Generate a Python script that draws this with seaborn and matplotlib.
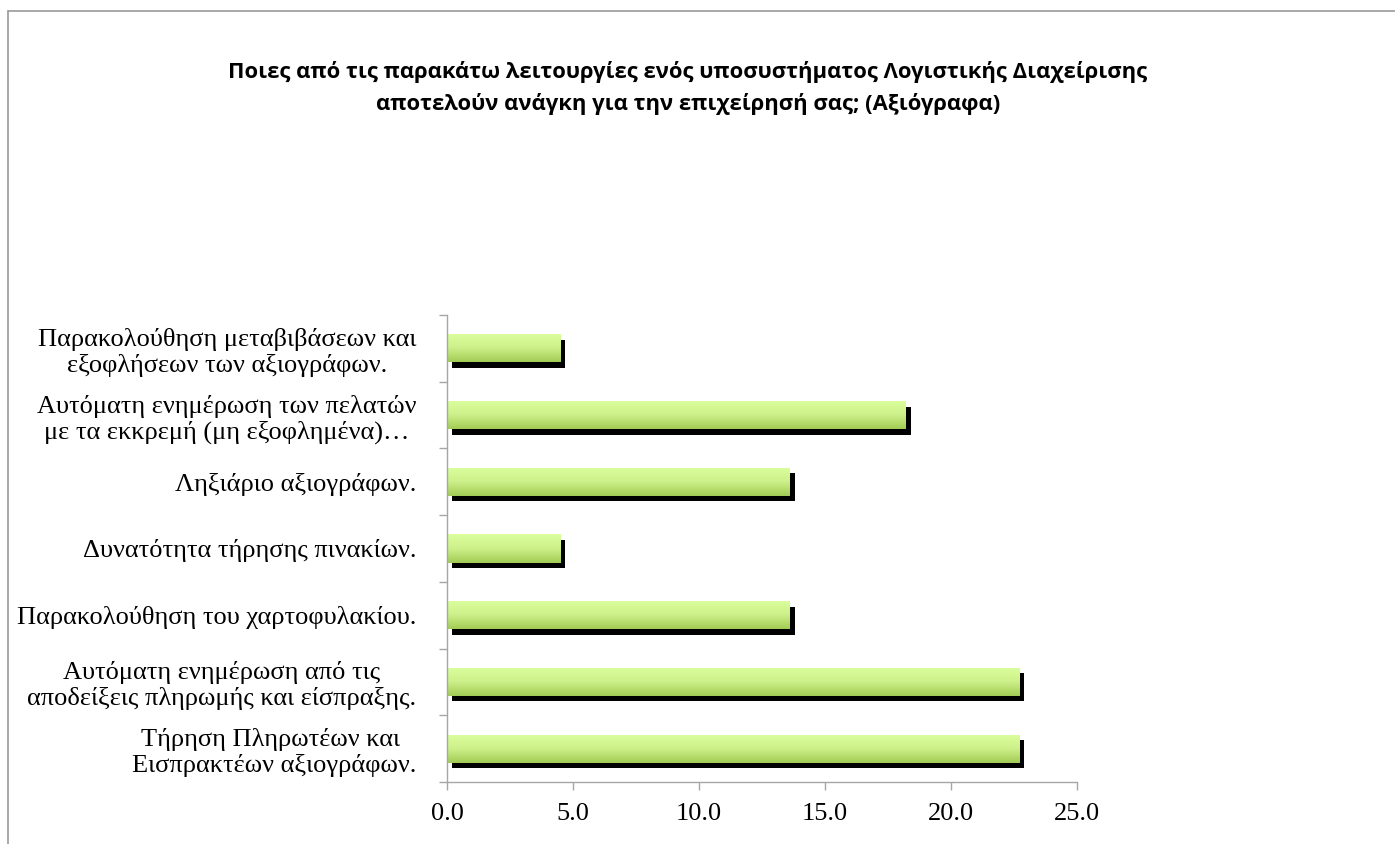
import numpy as np
import matplotlib
matplotlib.use("Agg")
import matplotlib.pyplot as plt
import matplotlib.patheffects as pe
from matplotlib.lines import Line2D
from matplotlib.colors import LinearSegmentedColormap
import seaborn as sns

# Survey answers (percent of respondents), listed top to bottom
categories = [
    "Παρακολούθηση μεταβιβάσεων και\nεξοφλήσεων των αξιογράφων.",
    "Αυτόματη ενημέρωση των πελατών\nμε τα εκκρεμή (μη εξοφλημένα)…",
    "Ληξιάριο αξιογράφων.",
    "Δυνατότητα τήρησης πινακίων.",
    "Παρακολούθηση του χαρτοφυλακίου.",
    "Αυτόματη ενημέρωση από τις\nαποδείξεις πληρωμής και είσπραξης.",
    "Τήρηση Πληρωτέων και \nΕισπρακτέων αξιογράφων.",
]
values = [4.5, 18.2, 13.6, 4.5, 13.6, 22.7, 22.7]
x_ticks = [0, 5, 10, 15, 20, 25]
title = ("Ποιες από τις παρακάτω λειτουργίες ενός υποσυστήματος Λογιστικής Διαχείρισης\n"
         "αποτελούν ανάγκη για την επιχείρησή σας; (Αξιόγραφα)")

sns.set_theme(style="white")
plt.rcParams["font.family"] = ["Liberation Serif", "DejaVu Serif"]
plt.rcParams["text.color"] = "black"

W, H = 1395, 844
fig = plt.figure(figsize=(W / 100, H / 100), dpi=100)
ax = fig.add_axes([447 / W, 1 - 782 / H, (1077 - 447) / W, (782 - 315) / H])

sns.barplot(x=values, y=categories, orient="h", width=0.42,
            color="#b8e070", ax=ax, saturation=1)

# vertical green gradient inside each bar, plus a hard black drop shadow
cmap = LinearSegmentedColormap.from_list("bar", ["#dcff9e", "#cdf08a", "#a3cc55"])
grad = np.linspace(0, 1, 64).reshape(-1, 1)
for p in ax.patches:
    p.set_edgecolor("none")
    p.set_path_effects([
        pe.SimplePatchShadow(offset=(3.6, -4.0), shadow_rgbFace="black", alpha=1.0),
        pe.Normal(),
    ])
    x0, y0 = p.get_x(), p.get_y()
    w, h = p.get_width(), p.get_height()
    im = ax.imshow(grad, cmap=cmap, aspect="auto", origin="upper",
                   extent=(x0, x0 + w, y0 + h, y0), zorder=p.get_zorder() + 0.1,
                   interpolation="bilinear")
    im.set_clip_path(p)

ax.set_xlim(0, 25)
ax.set_ylim(len(categories) - 0.5, -0.5)
ax.set_xticks(x_ticks)
ax.set_xticklabels([f"{v:.1f}" for v in x_ticks])

spine_col = "#a6a6a6"
for side in ("top", "right"):
    ax.spines[side].set_visible(False)
for side in ("left", "bottom"):
    ax.spines[side].set_color(spine_col)
    ax.spines[side].set_linewidth(1.0)

ax.tick_params(axis="x", which="major", direction="out", length=6, width=1.0,
               color=spine_col, pad=9, labelsize=19, labelcolor="black", bottom=True)
ax.tick_params(axis="y", which="major", length=0, pad=22, labelsize=19,
               labelcolor="black", left=True)
ax.set_yticks(np.arange(-0.5, len(categories), 1.0), minor=True)
ax.tick_params(axis="y", which="minor", direction="out", length=6, width=1.0,
               color=spine_col, left=True)
for lab in ax.get_yticklabels():
    lab.set_multialignment("center")
    lab.set_linespacing(1.15)
ax.set_xlabel("")
ax.set_ylabel("")

fig.text(688 / W, 1 - 88 / H, title, ha="center", va="center", fontsize=15.8,
         fontweight="bold", color="black", family=["Open Sans", "DejaVu Sans"],
         linespacing=1.55)

# chart area frame
fig.add_artist(Line2D([8 / W, 1], [1 - 11 / H, 1 - 11 / H], transform=fig.transFigure,
                      color="#9a9a9a", lw=1.2))
fig.add_artist(Line2D([8 / W, 8 / W], [0, 1 - 11 / H], transform=fig.transFigure,
                      color="#9a9a9a", lw=1.2))

fig.savefig("out.png", dpi=100, facecolor="white")
